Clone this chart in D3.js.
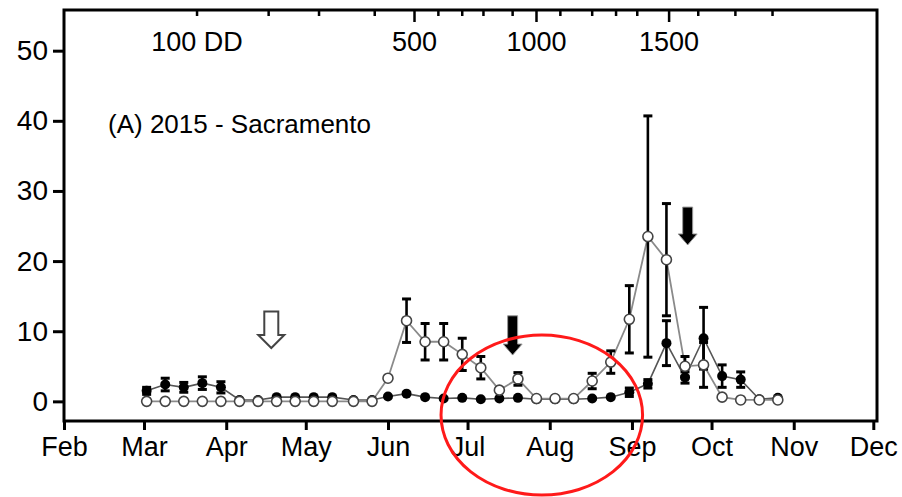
<!DOCTYPE html>
<html>
<head>
<meta charset="utf-8">
<script src="https://cdn.jsdelivr.net/npm/d3@7"></script>
<style>
  body { margin: 0; background: #fff; }
  text { font-family: "Liberation Sans", Arial, sans-serif; fill: #000; }
</style>
</head>
<body>
<div id="chart"></div>
<script>
// sample dates (weekly trap checks)
var fechas = ["2015-03-02","2015-03-09","2015-03-16","2015-03-23","2015-03-30","2015-04-06","2015-04-13",
  "2015-04-20","2015-04-27","2015-05-04","2015-05-11","2015-05-19","2015-05-26","2015-06-01","2015-06-08",
  "2015-06-15","2015-06-22","2015-06-29","2015-07-06","2015-07-13","2015-07-20","2015-07-27","2015-08-03",
  "2015-08-10","2015-08-17","2015-08-24","2015-08-31","2015-09-07","2015-09-14","2015-09-21","2015-09-28",
  "2015-10-05","2015-10-12","2015-10-19","2015-10-26"];

// open circles (grey line)
var abiertos = [0,0,0,0,0,0,0,0,0,0,0,0,0,3.3,11.5,8.5,8.5,6.7,4.8,1.6,3.2,0.4,0.4,0.4,2.9,5.6,11.7,23.5,20.2,5.0,5.2,0.6,0.2,0.2,0.2];
var abiertosErr = [0,0,0,0,0,0,0,0,0,0,0,0,0,0,3.1,2.6,2.6,2.3,1.6,0,0.9,0,0,0,1.1,1.6,4.8,17.2,8.0,1.4,3.2,0,0,0,0];

// filled circles (dark line)
var llenos = [1.5,2.4,2.0,2.6,2.0,0.2,0.2,0.6,0.6,0.6,0.6,0.2,0.2,0.7,1.1,0.6,0.4,0.5,0.3,0.4,0.5,0.3,0.3,0.3,0.4,0.6,1.3,2.5,8.3,3.4,9.0,3.6,3.1,0.3,0.5];
var llenosErr = [0.5,0.9,0.7,0.9,0.8,0,0,0,0,0,0,0,0,0,0,0,0,0,0,0,0,0,0,0,0,0,0.6,0.6,3.2,0.8,4.4,1.6,1.1,0,0];

// month axis
var meses = ["Feb","Mar","Apr","May","Jun","Jul","Aug","Sep","Oct","Nov","Dec"];
var mesesFechas = ["2015-02-01","2015-03-01","2015-04-01","2015-05-01","2015-06-01","2015-07-01",
  "2015-08-01","2015-09-01","2015-10-01","2015-11-01","2015-12-01"];
var yTicks = [0,10,20,30,40,50];

// degree-day axis on top (date each total was reached)
var ddValores = [100,200,300,400,500,600,700,800,900,1000,1100,1200,1300,1400,1500,1600,1700,1800];
var ddFechas = ["2015-03-21","2015-04-17","2015-05-06","2015-05-27","2015-06-11","2015-06-20","2015-06-29",
  "2015-07-07","2015-07-18","2015-07-27","2015-08-05","2015-08-17","2015-08-26","2015-09-03","2015-09-15",
  "2015-09-26","2015-10-10","2015-10-24"];
var ddEtiquetas = {100: "100 DD", 500: "500", 1000: "1000", 1500: "1500"};

// arrows
var flechaFechas = ["2015-04-18","2015-07-18","2015-09-22"];
var flechaTope = [12.8, 12.2, 27.7];
var flechaPunta = [7.6, 6.6, 22.3];
var flechaHueca = [true, false, false];

// red ellipse (left/right dates, top/bottom values)
var elipseFechas = ["2015-06-21","2015-09-05"];
var elipseValores = [9.46, -13.36];

var parse = d3.timeParse("%Y-%m-%d");
var width = 902, height = 497;
var L = 64, R = 877, T = 10, B = 421;

var svg = d3.select("#chart").append("svg")
  .attr("width", width)
  .attr("height", height)
  .style("background", "#fff");

var x = d3.scaleTime()
  .domain([parse("2015-02-01"), parse("2015-03-01"), parse("2015-12-01")])
  .range([L, 144, 873.3]);

var y = d3.scaleLinear()
  .domain([-2.8, 55.8])
  .range([B, T]);

var data = fechas.map(function(f, i) {
  return {fecha: parse(f), a: abiertos[i], aErr: abiertosErr[i], l: llenos[i], lErr: llenosErr[i]};
});

// frame
svg.append("rect")
  .attr("x", L).attr("y", T)
  .attr("width", R - L).attr("height", B - T)
  .attr("fill", "none").attr("stroke", "#000").attr("stroke-width", 3);

// bottom axis
var gx = svg.append("g")
  .attr("transform", "translate(0," + B + ")")
  .call(d3.axisBottom(x)
    .tickValues(mesesFechas.map(parse))
    .tickFormat(function(d, i) { return meses[i]; })
    .tickSize(9).tickPadding(7));
gx.select(".domain").remove();
gx.selectAll("line").attr("stroke", "#000").attr("stroke-width", 3);
gx.selectAll("text").style("font-size", "27px").attr("fill", "#000");

// left axis
var gy = svg.append("g")
  .attr("transform", "translate(" + L + ",0)")
  .call(d3.axisLeft(y).tickValues(yTicks).tickSize(11).tickPadding(5));
gy.select(".domain").remove();
gy.selectAll("line").attr("stroke", "#000").attr("stroke-width", 3);
gy.selectAll("text").style("font-size", "28px").attr("fill", "#000");

// top degree-day ticks
ddValores.forEach(function(v, i) {
  var xx = x(parse(ddFechas[i]));
  var largo = (v % 500 === 0) ? 12 : 6;
  svg.append("line")
    .attr("x1", xx).attr("x2", xx)
    .attr("y1", T).attr("y2", T + largo)
    .attr("stroke", "#000").attr("stroke-width", 2.5);
  if (ddEtiquetas[v]) {
    svg.append("text")
      .attr("x", xx).attr("y", 51)
      .attr("text-anchor", "middle")
      .style("font-size", "27px")
      .text(ddEtiquetas[v]);
  }
});

svg.append("text")
  .attr("x", 108).attr("y", 133)
  .style("font-size", "26px")
  .text("(A) 2015 - Sacramento");

// series lines
var lineaA = d3.line().x(function(d) { return x(d.fecha); }).y(function(d) { return y(d.a); });
var lineaL = d3.line().x(function(d) { return x(d.fecha); }).y(function(d) { return y(d.l); });

svg.append("path").datum(data)
  .attr("d", lineaL).attr("fill", "none")
  .attr("stroke", "#555").attr("stroke-width", 1.6);
svg.append("path").datum(data)
  .attr("d", lineaA).attr("fill", "none")
  .attr("stroke", "#8a8a8a").attr("stroke-width", 1.8);

// error bars
function barras(valor, err) {
  var g = svg.append("g");
  data.filter(function(d) { return d[err] > 0; }).forEach(function(d) {
    var xx = x(d.fecha);
    var y1 = y(d[valor] + d[err]), y2 = y(d[valor] - d[err]);
    g.append("line").attr("x1", xx).attr("x2", xx).attr("y1", y1).attr("y2", y2)
      .attr("stroke", "#000").attr("stroke-width", 2.6);
    [y1, y2].forEach(function(yy) {
      g.append("line").attr("x1", xx - 4.5).attr("x2", xx + 4.5).attr("y1", yy).attr("y2", yy)
        .attr("stroke", "#000").attr("stroke-width", 3);
    });
  });
}
barras("l", "lErr");
barras("a", "aErr");

// markers
svg.selectAll(".lleno")
  .data(data)
  .enter().append("circle")
  .attr("class", "lleno")
  .attr("cx", function(d) { return x(d.fecha); })
  .attr("cy", function(d) { return y(d.l); })
  .attr("r", 5)
  .attr("fill", "#000");

svg.selectAll(".abierto")
  .data(data)
  .enter().append("circle")
  .attr("class", "abierto")
  .attr("cx", function(d) { return x(d.fecha); })
  .attr("cy", function(d) { return y(d.a); })
  .attr("r", 5)
  .attr("fill", "#fff")
  .attr("stroke", "#444")
  .attr("stroke-width", 1.6);

// arrows
flechaFechas.forEach(function(f, i) {
  var cx = x(parse(f)), y0 = y(flechaTope[i]), y1 = y(flechaPunta[i]);
  var hueca = flechaHueca[i];
  var s = hueca ? 7 : 5, h = hueca ? 13 : 9.5, hl = hueca ? 13 : 11;
  var pts = [[cx - s, y0], [cx + s, y0], [cx + s, y1 - hl], [cx + h, y1 - hl], [cx, y1],
             [cx - h, y1 - hl], [cx - s, y1 - hl]];
  svg.append("path")
    .attr("d", "M" + pts.join("L") + "Z")
    .attr("fill", hueca ? "#fff" : "#000")
    .attr("stroke", hueca ? "#444" : "#999")
    .attr("stroke-width", hueca ? 2 : 1);
});

// red ellipse
var ex0 = x(parse(elipseFechas[0])), ex1 = x(parse(elipseFechas[1]));
var ey0 = y(elipseValores[0]), ey1 = y(elipseValores[1]);
svg.append("ellipse")
  .attr("cx", (ex0 + ex1) / 2).attr("cy", (ey0 + ey1) / 2)
  .attr("rx", (ex1 - ex0) / 2).attr("ry", (ey1 - ey0) / 2)
  .attr("fill", "none").attr("stroke", "#ff1a1a").attr("stroke-width", 3);
</script>
</body>
</html>
